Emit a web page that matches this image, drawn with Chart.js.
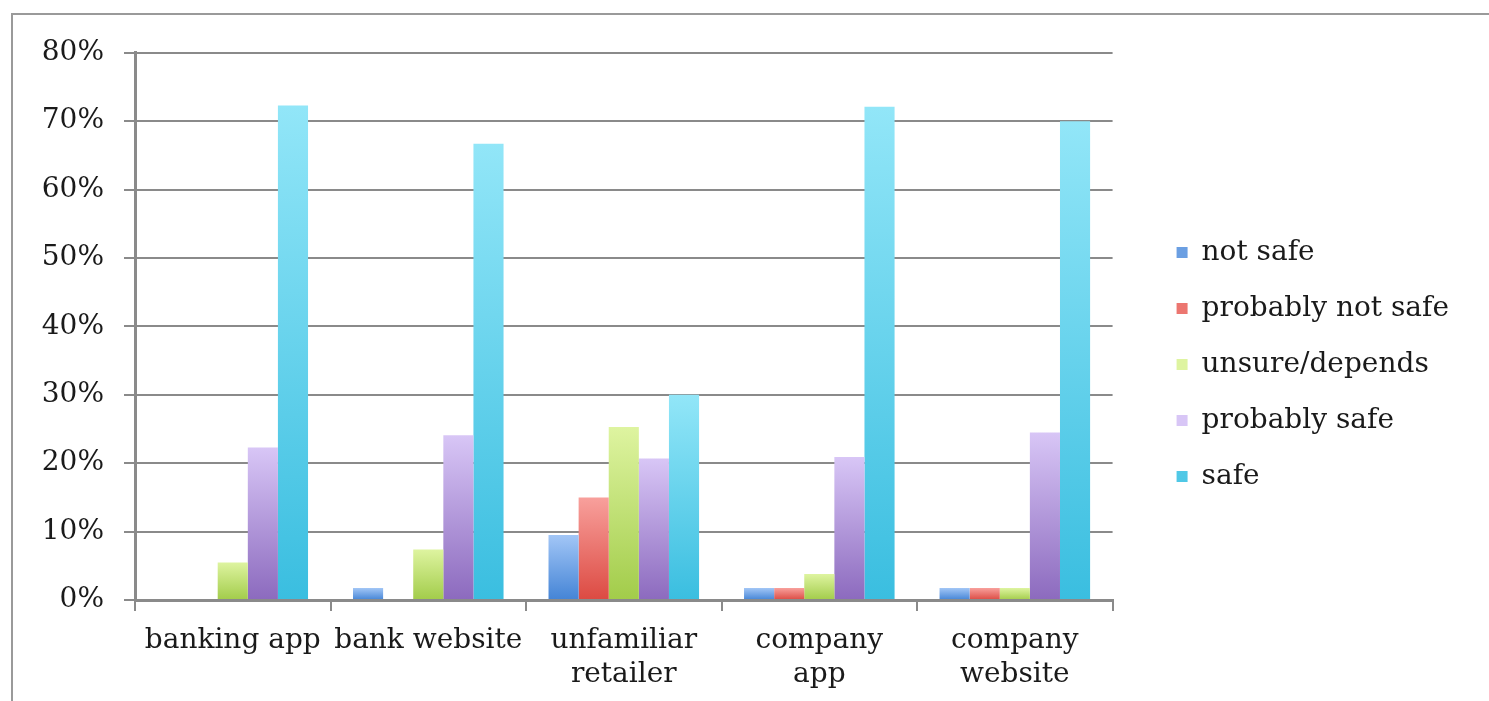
<!DOCTYPE html>
<html>
<head>
<meta charset="utf-8">
<title>Perceived safety by channel</title>
<script src="https://cdn.jsdelivr.net/npm/chart.js@4/dist/chart.umd.min.js"></script>
<style>
  html, body { margin: 0; padding: 0; background: #fff; overflow: hidden; }
  #frame {
    position: absolute; left: 11px; top: 13px;
    width: 1500px; height: 720px;
    border: 2px solid #9a9a9a; box-sizing: border-box;
  }
  #wrap { position: absolute; left: 14px; top: 16px; width: 1475px; height: 685px; }
</style>
</head>
<body>
<div id="frame"></div>
<div id="wrap"><canvas id="myChart"></canvas></div>
<script>
const categories = ['banking app', 'bank website', ['unfamiliar', 'retailer'], ['company', 'app'], ['company', 'website']];
const seriesNames = ['not safe', 'probably not safe', 'unsure/depends', 'probably safe', 'safe'];

// share of respondents (%) per channel
const notSafe = [0, 1.75, 9.5, 1.75, 1.75];
const probablyNotSafe = [0, 0, 15, 1.75, 1.75];
const unsureDepends = [5.5, 7.4, 25.3, 3.8, 1.75];
const probablySafe = [22.3, 24.1, 20.7, 20.9, 24.5];
const safe = [72.3, 66.7, 30, 72.1, 70];

const yTicks = [0, 10, 20, 30, 40, 50, 60, 70, 80];

// light top / dark bottom for each series
const shades = [
    ['#a2c6f6', '#6b9fe2', '#4484d6'],
    ['#f8a09c', '#ec7670', '#dc4a42'],
    ['#def4a0', '#c6e478', '#a2cc4a'],
    ['#d8c6f6', '#b59ddd', '#8c6abe'],
    ['#92e6f8', '#62d2ec', '#3abee0']
];

function barFill(i) {
    return function (ctx) {
        const [light, mid, dark] = shades[i];
        if (ctx.type !== 'data' || !ctx.chart.chartArea) return mid;
        const y = ctx.chart.scales.y;
        const top = y.getPixelForValue(ctx.raw);
        const bottom = y.getPixelForValue(0);
        if (bottom - top < 1) return mid;
        const g = ctx.chart.ctx.createLinearGradient(0, top, 0, bottom);
        g.addColorStop(0, light);
        g.addColorStop(1, dark);
        return g;
    };
}

const values = [notSafe, probablyNotSafe, unsureDepends, probablySafe, safe];
const datasets = seriesNames.map((name, i) => ({
    label: name,
    data: values[i],
    backgroundColor: barFill(i),
    borderWidth: 0
}));

const font = { family: 'DejaVu Serif', size: 28 };

// push the legend a bit away from the plot and up
const legendNudge = {
    id: 'legendNudge',
    afterLayout(chart) {
        const lg = chart.legend;
        const dx = chart.chartArea.right + 36 - lg.left;
        lg.left += dx; lg.right += dx;
        lg.top -= 12; lg.bottom -= 12;
    }
};

const ctx = document.getElementById('myChart').getContext('2d');
const myChart = new Chart(ctx, {
    type: 'bar',
    data: { labels: categories, datasets: datasets },
    plugins: [legendNudge],
    options: {
        responsive: true,
        maintainAspectRatio: false,
        animation: false,
        categoryPercentage: 0.77,
        barPercentage: 1,
        layout: { padding: { top: 36, right: 66 } },
        plugins: {
            tooltip: { enabled: false },
            legend: {
                position: 'right',
                align: 'center',
                labels: {
                    color: '#1a1a1a',
                    font: font,
                    boxWidth: 11,
                    boxHeight: 11,
                    padding: 28
                }
            }
        },
        scales: {
            x: {
                afterFit: scale => { scale.height = 101; },
                grid: {
                    offset: true,
                    drawOnChartArea: false,
                    color: '#8a8a8a',
                    lineWidth: 2,
                    tickLength: 11
                },
                border: { color: '#8a8a8a', width: 3 },
                ticks: { color: '#1a1a1a', font: font, padding: 13, maxRotation: 0, autoSkip: false }
            },
            y: {
                min: 0,
                max: 80,
                afterFit: scale => { scale.width = 121; },
                afterBuildTicks: scale => { scale.ticks = yTicks.map(v => ({ value: v })); },
                grid: { color: '#8a8a8a', lineWidth: 2, tickLength: 11 },
                border: { color: '#8a8a8a', width: 3 },
                ticks: {
                    color: '#1a1a1a',
                    font: font,
                    padding: 20,
                    callback: v => v + '%'
                }
            }
        }
    }
});
</script>
</body>
</html>
